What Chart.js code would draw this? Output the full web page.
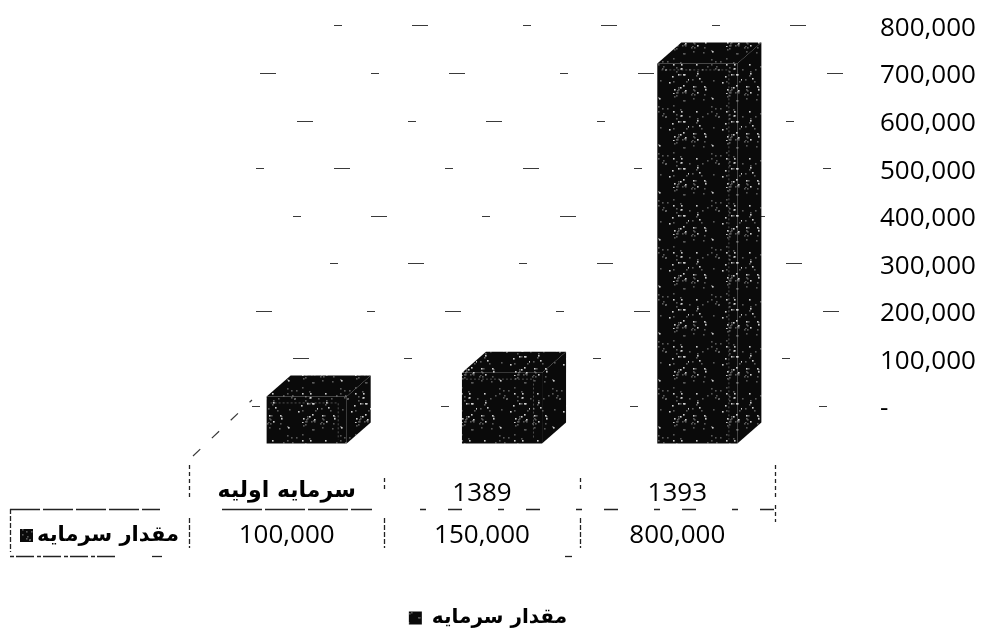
<!DOCTYPE html>
<html>
<head>
<meta charset="utf-8">
<title>مقدار سرمایه</title>
<script src="https://cdn.jsdelivr.net/npm/chart.js@4.4.1/dist/chart.umd.min.js"></script>
<style>
  html, body { margin: 0; padding: 0; background: #fff; }
  #wrap { width: 986px; height: 632px; }
</style>
</head>
<body>
<div id="wrap"><canvas id="capitalChart" width="986" height="632"></canvas></div>
<script>
const categories = ['سرمایه اولیه', '1389', '1393'];
const capitalValues = [100000, 150000, 800000];
const seriesName = 'مقدار سرمایه';
const yTickValues = [0, 100000, 200000, 300000, 400000, 500000, 600000, 700000, 800000];
const yMax = 890000;

const numberFont = "'Open Sans', 'DejaVu Sans', sans-serif";
const persianFont = "'DejaVu Sans', sans-serif";

// 3d depth of the columns (px)
const DX = 24;
const DY = -21;
// table columns sit a bit left of the bar fronts
const COL_SHIFT = -20;

// dark speckled fill, like the scanned columns
function makeSpeckle() {
    const c = document.createElement('canvas');
    c.width = 53;
    c.height = 47;
    const g = c.getContext('2d');
    g.fillStyle = '#0a0a0a';
    g.fillRect(0, 0, c.width, c.height);
    let s = 12345;
    const next = () => (s = (s * 16807) % 2147483647);
    for (let i = 0; i < 70; i++) {
        const x = next() % c.width;
        const y = next() % c.height;
        g.fillStyle = i % 3 === 0 ? '#d0d0d0' : '#5a5a5a';
        g.fillRect(x, y, 1.6, 1.6);
    }
    return g.createPattern(c, 'repeat');
}

const speckle = makeSpeckle();

function fmt(v) {
    return v.toLocaleString('en-US');
}

// faded back-wall grid: only scattered bits survived the scan
const gridPlugin = {
    id: 'backGrid',
    beforeDatasetsDraw(chart) {
        const ctx = chart.ctx;
        const yScale = chart.scales.y;
        ctx.save();
        ctx.strokeStyle = '#3a3a3a';
        ctx.lineWidth = 1.2;
        ctx.setLineDash([8, 70, 16, 95]);
        yScale.ticks.forEach((t, i) => {
            const py = Math.round(yScale.getPixelForValue(t.value) - 38) + 0.5;
            ctx.lineDashOffset = i * 37;
            ctx.beginPath();
            ctx.moveTo(252, py);
            ctx.lineTo(843, py);
            ctx.stroke();
        });
        // left wall edge
        ctx.lineDashOffset = 0;
        ctx.setLineDash([10, 16]);
        ctx.beginPath();
        ctx.moveTo(193, 456);
        ctx.lineTo(252, 400);
        ctx.stroke();
        ctx.restore();
    }
};

const depthPlugin = {
    id: 'depth3d',
    afterDatasetsDraw(chart) {
        const ctx = chart.ctx;
        const meta = chart.getDatasetMeta(0);
        ctx.save();
        meta.data.forEach(bar => {
            const p = bar.getProps(['x', 'y', 'base', 'width'], true);
            const l = p.x - p.width / 2;
            const r = p.x + p.width / 2;
            ctx.fillStyle = speckle;
            // top face
            ctx.beginPath();
            ctx.moveTo(l, p.y);
            ctx.lineTo(l + DX, p.y + DY);
            ctx.lineTo(r + DX, p.y + DY);
            ctx.lineTo(r, p.y);
            ctx.closePath();
            ctx.fill();
            // side face
            ctx.beginPath();
            ctx.moveTo(r, p.y);
            ctx.lineTo(r + DX, p.y + DY);
            ctx.lineTo(r + DX, p.base + DY);
            ctx.lineTo(r, p.base);
            ctx.closePath();
            ctx.fill();
            // faint inner edge on the front face
            ctx.strokeStyle = 'rgba(210,210,210,0.35)';
            ctx.lineWidth = 1;
            ctx.setLineDash([2, 2]);
            ctx.beginPath();
            ctx.moveTo(l + 4, p.y + 6.5);
            ctx.lineTo(r - 8.5, p.y + 6.5);
            ctx.lineTo(r - 8.5, p.base - 4);
            ctx.stroke();
            ctx.setLineDash([]);
        });
        ctx.restore();
    }
};

const tablePlugin = {
    id: 'dataTable',
    afterDraw(chart) {
        const ctx = chart.ctx;
        const xScale = chart.scales.x;
        const values = chart.data.datasets[0].data;
        const rowY = 536;
        ctx.save();
        ctx.fillStyle = '#000';
        ctx.textBaseline = 'middle';
        ctx.textAlign = 'center';
        ctx.font = '26px ' + numberFont;
        values.forEach((v, i) => {
            ctx.fillText(fmt(v), xScale.getPixelForValue(i) + COL_SHIFT, rowY);
        });

        // row header with its key
        ctx.fillStyle = speckle;
        ctx.fillRect(20, rowY - 7, 13, 13);
        ctx.fillStyle = '#000';
        ctx.textAlign = 'left';
        ctx.font = 'bold 21px ' + persianFont;
        ctx.fillText(seriesName, 37, rowY);

        // broken table rules
        const step = xScale.getPixelForValue(1) - xScale.getPixelForValue(0);
        const edges = values.map((v, i) => xScale.getPixelForValue(i) + COL_SHIFT - step / 2);
        edges.push(edges[edges.length - 1] + step);
        ctx.strokeStyle = '#222';
        ctx.lineWidth = 1.3;
        const line = (x1, y1, x2, y2, dash) => {
            ctx.setLineDash(dash || []);
            ctx.beginPath();
            ctx.moveTo(x1, y1);
            ctx.lineTo(x2, y2);
            ctx.stroke();
        };
        line(10, 509.5, 160, 509.5, [30, 3]);
        line(222, 509.5, 372, 509.5, [40, 3]);
        line(420, 509.5, 775, 509.5, [6, 22, 14, 36]);
        line(10.5, 509, 10.5, 552, [5, 2]);
        edges.forEach((ex, i) => {
            const x = Math.round(ex) + 0.5;
            if (i === 0 || i === edges.length - 1) line(x, 465, x, 500, [4, 3]);
            else line(x, 478, x, 490, [4, 3]);
            if (i < edges.length - 1) line(x, 518, x, 548, [5, 2]);
            else line(x, 505, x, 522, [4, 3]);
        });
        line(10, 556.5, 115, 556.5, [4, 2, 18, 3]);
        line(152, 556.5, 162, 556.5);
        line(565, 556.5, 572, 556.5);
        ctx.restore();
    }
};

const ctx = document.getElementById('capitalChart').getContext('2d');
new Chart(ctx, {
    type: 'bar',
    data: {
        labels: categories,
        datasets: [{
            label: seriesName,
            data: capitalValues,
            xAxisID: 'x',
            yAxisID: 'y',
            backgroundColor: speckle,
            borderWidth: 0,
            categoryPercentage: 1,
            barPercentage: 0.41
        }]
    },
    options: {
        responsive: false,
        animation: false,
        devicePixelRatio: 1,
        layout: {
            padding: { top: 20, right: 10, bottom: -6, left: 0 }
        },
        plugins: {
            legend: {
                position: 'bottom',
                labels: {
                    boxWidth: 13,
                    boxHeight: 13,
                    padding: 0,
                    color: '#000',
                    font: { family: persianFont, size: 20, weight: 'bold' }
                }
            },
            tooltip: { enabled: false },
            title: { display: false }
        },
        scales: {
            x: {
                grid: { display: false },
                border: { display: false },
                ticks: {
                    color: '#000',
                    padding: 26,
                    labelOffset: COL_SHIFT,
                    maxRotation: 0,
                    font: c => c.index === 0
                        ? { family: persianFont, size: 22, weight: 'bold' }
                        : { family: numberFont, size: 26 }
                },
                afterFit(scale) {
                    scale.height = 164;
                }
            },
            y: {
                position: 'right',
                min: 0,
                max: yMax,
                grid: {
                    display: true,
                    drawOnChartArea: false,
                    drawTicks: true,
                    tickLength: 80,
                    color: 'rgba(0,0,0,0)'
                },
                border: { display: false },
                afterBuildTicks(scale) {
                    scale.ticks = yTickValues.map(v => ({ value: v }));
                },
                afterFit(scale) {
                    scale.width = 181;
                },
                ticks: {
                    color: '#000',
                    padding: 5,
                    labelOffset: -35,
                    font: { family: numberFont, size: 26 },
                    callback: v => (v === 0 ? '-' : fmt(v))
                }
            },
            // empty left margin where the table row header sits
            spacer: {
                type: 'linear',
                position: 'left',
                display: true,
                grid: { display: false },
                border: { display: false },
                ticks: { display: false },
                afterFit(scale) {
                    scale.width = 209;
                }
            }
        }
    },
    plugins: [gridPlugin, depthPlugin, tablePlugin]
});
</script>
</body>
</html>
